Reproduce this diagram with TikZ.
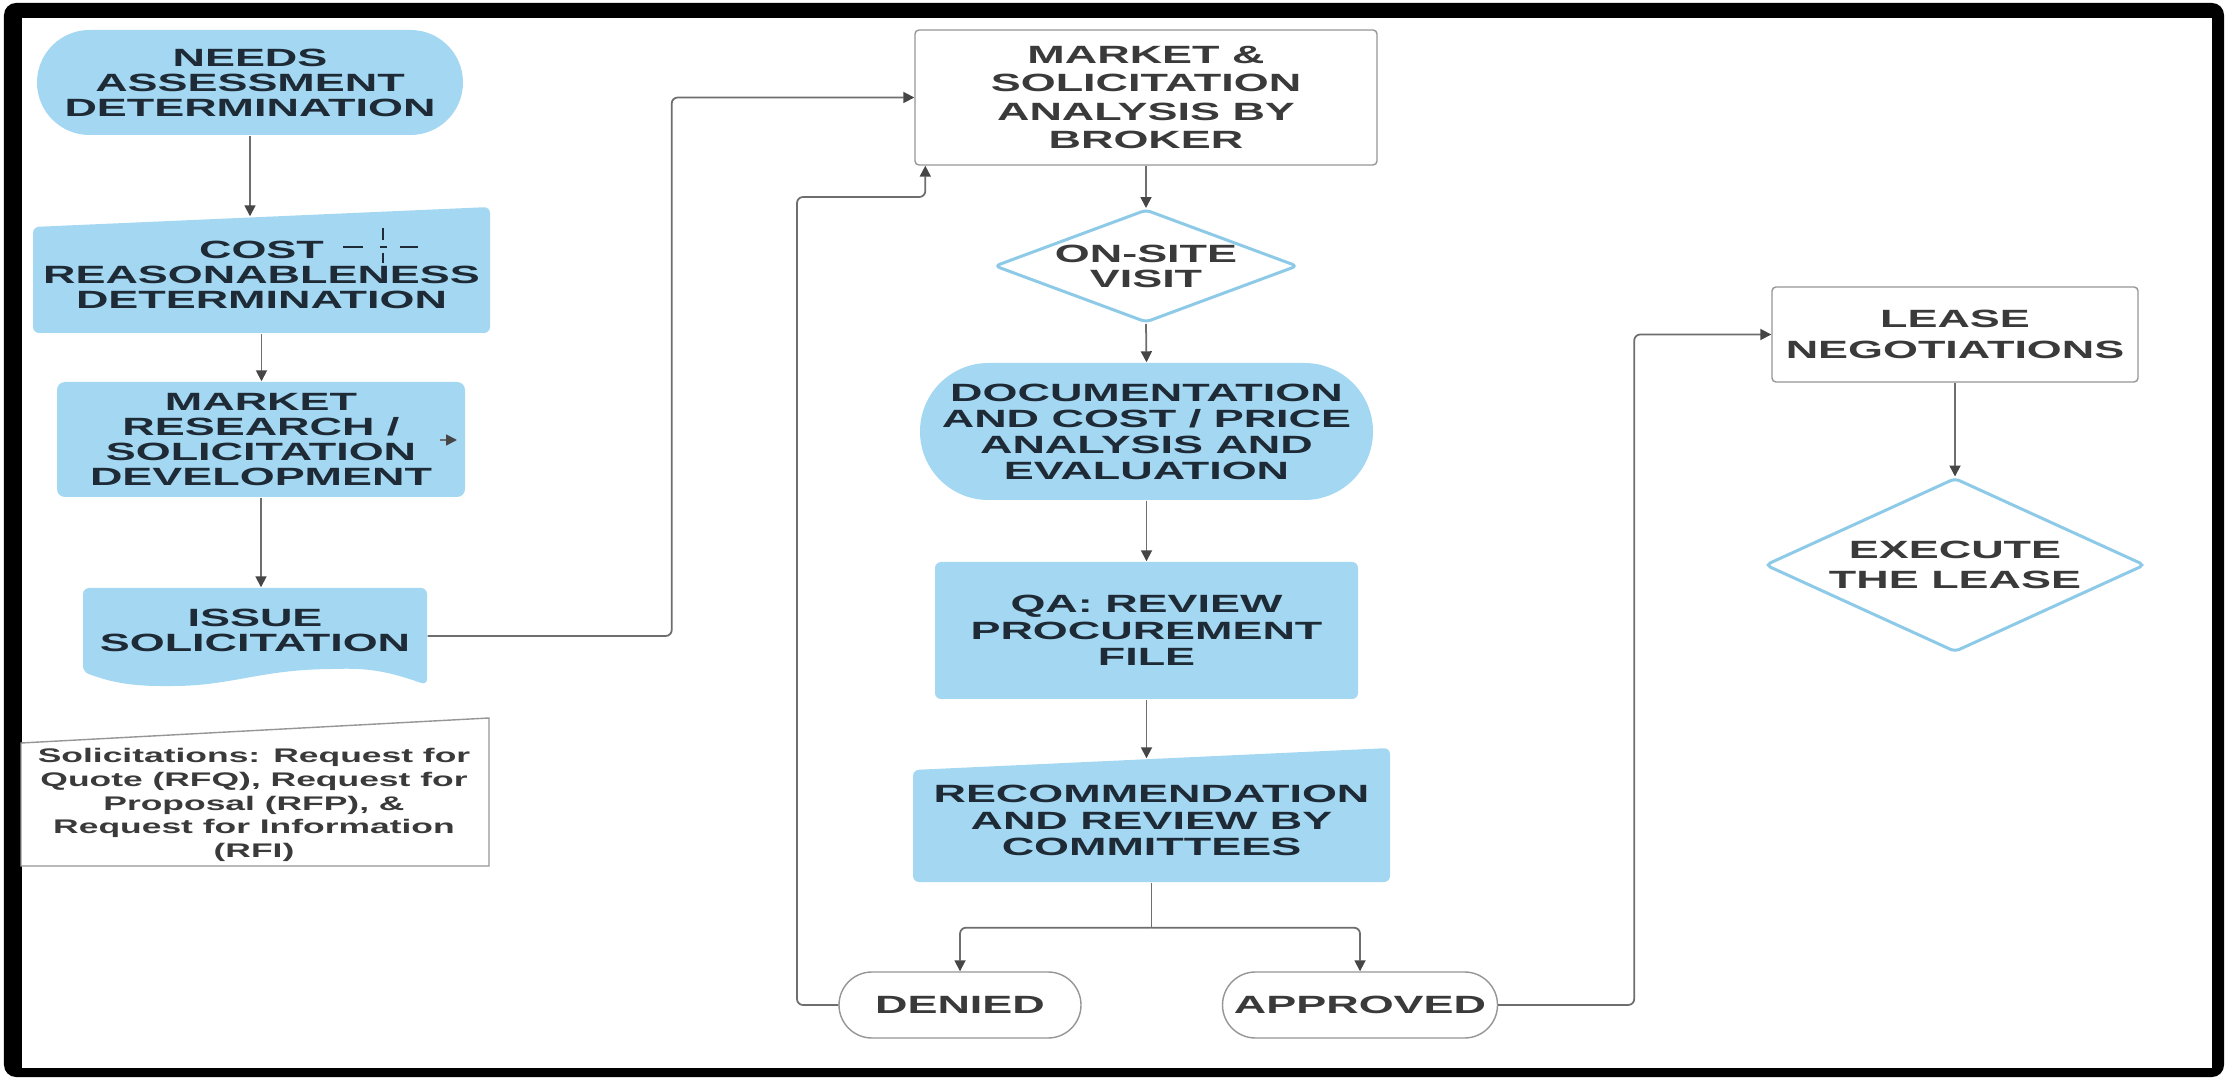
\documentclass[tikz,border=0pt]{standalone}
\usepackage{fontspec}
\setmainfont{Liberation Sans}[FakeStretch=1.8]
\usetikzlibrary{shapes.geometric,arrows.meta}
\definecolor{boxblue}{RGB}{164,216,242}
\definecolor{edgeblue}{RGB}{140,202,232}
\definecolor{inkblue}{RGB}{30,42,54}
\definecolor{inkgray}{RGB}{58,58,58}
\definecolor{linegray}{RGB}{110,110,110}
\definecolor{tipgray}{RGB}{70,70,70}
\definecolor{rimgray}{RGB}{150,150,150}
\tikzset{
  stepfont/.style={font=\fontsize{7.1}{#1}\selectfont\bfseries},
  stepfont/.default=7.1,
  bluestep/.style={stepfont, text=inkblue, fill=boxblue, inner sep=0pt, align=center},
  whitestep/.style={stepfont, text=inkgray, draw=rimgray, line width=0.4pt, fill=white, inner sep=0pt, align=center},
  decide/.style={diamond, stepfont, text=inkgray, draw=edgeblue, line width=0.85pt, fill=white, inner sep=0pt, align=center, rounded corners=0.05cm},
  textonly/.style={stepfont, text=inkblue, inner sep=0pt, align=center},
  notetext/.style={font=\fontsize{5.6}{6.8}\selectfont\bfseries, text=inkgray, inner sep=0pt, align=center},
  bluefill/.style={fill=boxblue, rounded corners=0.06cm},
  cursor/.style={draw=inkblue, line width=0.6pt},
  flow/.style={draw=linegray, line width=0.5pt, -{Triangle[length=1.1mm,width=1.1mm,color=tipgray]}},
  link/.style={draw=linegray, line width=0.5pt},
}
\begin{document}
\begin{tikzpicture}
  % frame
  \useasboundingbox (0,0) rectangle (22.28,-10.80);
  \fill[black, rounded corners=0.12cm] (0.04,-0.03) rectangle (22.24,-10.77);
  \fill[white] (0.22,-0.18) rectangle (22.12,-10.68);

  % left column
  \node[bluestep, minimum width=4.26cm, minimum height=1.05cm, rounded corners=0.525cm] (needs) at (2.50,-0.825) {NEEDS\\ASSESSMENT\\DETERMINATION};
  \fill[bluefill] (0.33,-2.27) -- (4.90,-2.07) -- (4.90,-3.33) -- (0.33,-3.33) -- cycle;
  \node[textonly, minimum width=4.57cm, minimum height=1.16cm] (cost) at (2.615,-2.75) {COST\\REASONABLENESS\\DETERMINATION};
  \draw[cursor] (3.43,-2.47) -- (3.63,-2.47);
  \draw[cursor] (3.80,-2.47) -- (3.87,-2.47);
  \draw[cursor] (4.00,-2.47) -- (4.18,-2.47);
  \draw[cursor] (3.83,-2.28) -- (3.83,-2.40);
  \draw[cursor] (3.83,-2.53) -- (3.83,-2.63);
  \node[bluestep, minimum width=4.08cm, minimum height=1.15cm, rounded corners=0.08cm] (market) at (2.61,-4.395) {MARKET\\RESEARCH /\\SOLICITATION\\DEVELOPMENT};
  \draw[flow] (4.40,-4.40) -- (4.57,-4.40);
  \fill[bluefill] (0.83,-5.88) -- (4.27,-5.88) -- (4.27,-6.85) .. controls (3.90,-6.72) and (3.70,-6.68) .. (3.33,-6.69) .. controls (2.60,-6.70) and (2.30,-6.86) .. (1.67,-6.86) .. controls (1.20,-6.86) and (1.00,-6.78) .. (0.83,-6.72) -- cycle;
  \node[textonly, minimum width=3.44cm, minimum height=0.84cm] (issue) at (2.55,-6.30) {ISSUE\\SOLICITATION};
  \filldraw[fill=white, draw=rimgray, line width=0.4pt] (0.21,-7.43) -- (4.89,-7.18) -- (4.89,-8.66) -- (0.21,-8.66) -- cycle;
  \node[notetext] (note) at (2.54,-8.05) {Solicitations: Request for\\Quote (RFQ), Request for\\Proposal (RFP), \&\\Request for Information\\(RFI)};

  % middle column
  \node[whitestep, stepfont=8.0, minimum width=4.62cm, minimum height=1.35cm, rounded corners=0.04cm] (broker) at (11.46,-0.975) {MARKET \&\\SOLICITATION\\ANALYSIS BY\\BROKER};
  \node[decide, aspect=2.68, minimum width=3.03cm, minimum height=1.13cm] (visit) at (11.46,-2.66) {ON-SITE\\VISIT};
  \node[bluestep, stepfont=7.4, minimum width=4.53cm, minimum height=1.37cm, rounded corners=0.685cm] (docs) at (11.465,-4.315) {DOCUMENTATION\\AND COST / PRICE\\ANALYSIS AND\\EVALUATION};
  \node[bluestep, stepfont=7.6, minimum width=4.23cm, minimum height=1.37cm, rounded corners=0.06cm] (review) at (11.465,-6.305) {QA: REVIEW\\PROCUREMENT\\FILE};
  \fill[bluefill] (9.13,-7.70) -- (13.90,-7.48) -- (13.90,-8.82) -- (9.13,-8.82) -- cycle;
  \node[textonly, stepfont=7.6, minimum width=4.77cm, minimum height=1.23cm] (committee) at (11.515,-8.205) {RECOMMENDATION\\AND REVIEW BY\\COMMITTEES};
  \coordinate (fork) at ([yshift=-0.45cm]committee.south);
  \node[whitestep, minimum width=2.42cm, minimum height=0.66cm, rounded corners=0.33cm] (denied) at (9.60,-10.05) {DENIED};
  \node[whitestep, minimum width=2.75cm, minimum height=0.66cm, rounded corners=0.33cm] (approved) at (13.60,-10.05) {APPROVED};

  % right column
  \node[whitestep, stepfont=8.8, minimum width=3.66cm, minimum height=0.95cm, rounded corners=0.04cm] (lease) at (19.55,-3.345) {LEASE\\NEGOTIATIONS};
  \node[decide, stepfont=8.5, aspect=2.18, minimum width=3.80cm, minimum height=1.74cm] (execute) at (19.55,-5.65) {EXECUTE\\THE LEASE};

  % connectors
  \coordinate (loop) at (7.97,-1.97);
  \draw[flow] (needs.south) -- (needs.south |- cost.north);
  \draw[flow] (cost.south) -- (cost.south |- market.north);
  \draw[flow] (market.south) -- (market.south |- issue.north);
  \draw[flow, rounded corners=0.06cm] ([yshift=-0.06cm]issue.east) -- ++(2.44,0) |- (broker.west);
  \draw[flow] (broker.south) -- (visit.north);
  \draw[flow] (visit.south) -- (docs.north);
  \draw[flow] (docs.south) -- (review.north);
  \draw[flow] (review.south) -- (review.south |- committee.north);
  \draw[link] (committee.south) -- (fork);
  \draw[flow, rounded corners=0.06cm] (fork) -| (denied.north);
  \draw[flow, rounded corners=0.06cm] (fork) -| (approved.north);
  \draw[flow, rounded corners=0.06cm] (denied.west) -| (loop) -| ([xshift=0.11cm]broker.south west);
  \draw[flow, rounded corners=0.06cm] (approved.east) -- ++(1.36,0) |- (lease.west);
  \draw[flow] (lease.south) -- (execute.north);
\end{tikzpicture}
\end{document}
